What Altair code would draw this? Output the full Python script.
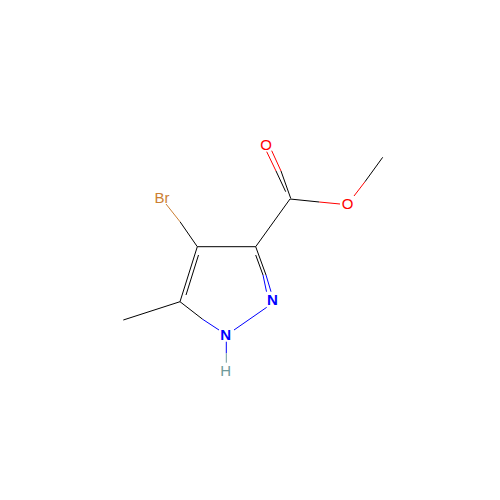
import altair as alt
import pandas as pd

BLACK = "#000000"
BLUE = "#0000FF"
RED = "#FF0000"
BROWN = "#CC7F33"
TEAL = "#6F9A9A"

# bond segments
x1 = [123.3, 197.3, 198.5, 197.3, 255.7, 266.0, 255.7, 263.0, 180.0, 202.7, 234.0, 226.3, 226.3,
      197.3, 180.0, 255.7, 285.7, 276.0, 290.7, 281.0, 290.0, 319.3, 354.0, 365.0]
y1 = [320.0, 246.7, 255.0, 246.7, 246.7, 275.0, 255.0, 275.0, 301.7, 319.3, 330.0, 341.7, 353.3,
      246.7, 221.7, 246.7, 191.7, 171.0, 198.3, 171.0, 199.0, 202.0, 196.0, 181.7]
x2 = [180.0, 180.0, 186.0, 255.7, 266.0, 271.0, 263.0, 266.5, 202.7, 219.0, 266.7, 226.3, 226.3,
      180.0, 166.0, 290.0, 276.0, 266.7, 281.0, 271.7, 319.3, 340.0, 365.0, 382.7]
y2 = [301.7, 301.7, 295.0, 246.7, 275.0, 291.7, 275.0, 291.7, 319.3, 330.0, 307.3, 353.3, 362.7,
      221.7, 204.0, 199.0, 171.0, 151.7, 171.0, 150.7, 202.0, 204.0, 181.7, 157.3]
bond_colors = [BLACK, BLACK, BLACK, BLACK, BLACK, BLUE, BLACK, BLUE, BLACK, BLUE, BLUE, BLUE, TEAL,
               BLACK, BROWN, BLACK, BLACK, RED, BLACK, RED, BLACK, RED, RED, BLACK]

# atom labels
labels = ["Br", "H", "O", "O"]
label_x = [162.0, 225.7, 266.0, 347.7]
label_y = [197.5, 371.0, 144.5, 204.0]
label_colors = [BROWN, TEAL, RED, RED]

bold_labels = ["N", "N"]
bold_x = [272.3, 225.7]
bold_y = [300.0, 335.0]
bold_colors = [BLUE, BLUE]

bonds = pd.DataFrame({"x": x1, "y": y1, "x2": x2, "y2": y2, "c": bond_colors})
atoms = pd.DataFrame({"x": label_x, "y": label_y, "t": labels, "c": label_colors})
bold_atoms = pd.DataFrame({"x": bold_x, "y": bold_y, "t": bold_labels, "c": bold_colors})

xs = alt.Scale(domain=[8, 492])
ys = alt.Scale(domain=[492, 8])

rules = alt.Chart(bonds).mark_rule(strokeWidth=1.0).encode(
    x=alt.X("x:Q", scale=xs, axis=None),
    y=alt.Y("y:Q", scale=ys, axis=None),
    x2="x2:Q",
    y2="y2:Q",
    color=alt.Color("c:N", scale=None),
)
text = alt.Chart(atoms).mark_text(font="Liberation Sans", fontSize=15, baseline="middle", align="center").encode(
    x=alt.X("x:Q", scale=xs, axis=None),
    y=alt.Y("y:Q", scale=ys, axis=None),
    text="t:N",
    color=alt.Color("c:N", scale=None),
)
bold_text = alt.Chart(bold_atoms).mark_text(font="Liberation Sans", fontSize=15, fontWeight="bold", baseline="middle", align="center").encode(
    x=alt.X("x:Q", scale=xs, axis=None),
    y=alt.Y("y:Q", scale=ys, axis=None),
    text="t:N",
    color=alt.Color("c:N", scale=None),
)
chart = (rules + text + bold_text).properties(
    width=484, height=484, padding=0, autosize=alt.AutoSizeParams(type="none"),
    background="white",
).configure_view(stroke=None)

chart.save("out.html", embed_options={"renderer": "svg", "actions": False})
